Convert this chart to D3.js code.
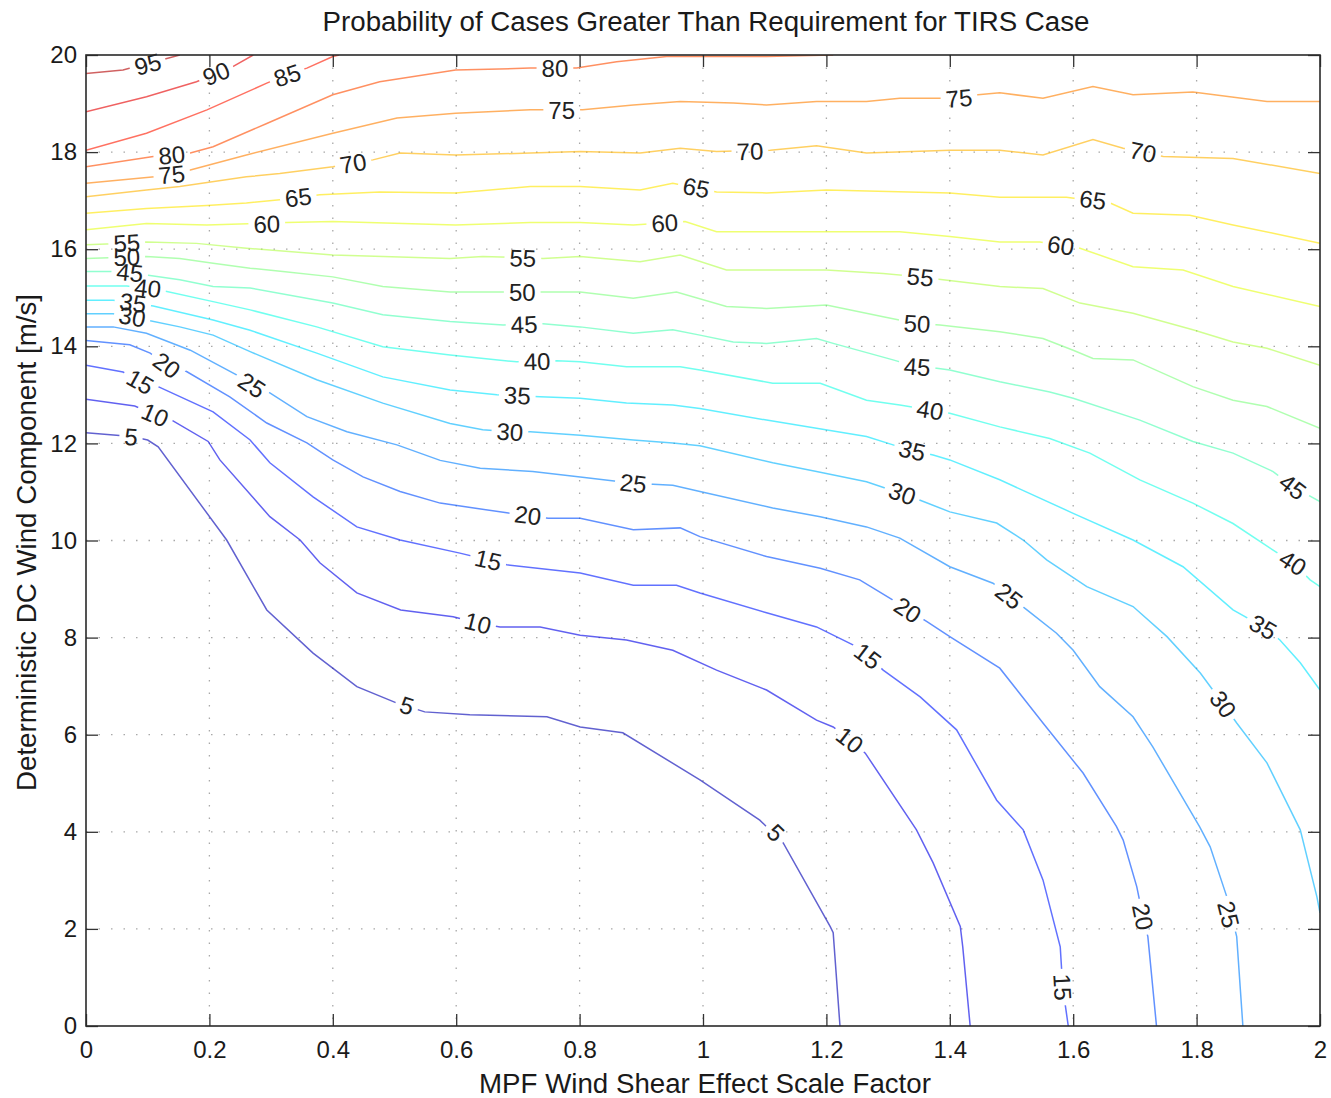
<!DOCTYPE html>
<html><head><meta charset="utf-8">
<script src="https://cdn.jsdelivr.net/npm/d3@7"></script>
<style>body{margin:0;background:#fff} text{font-family:"Liberation Sans",Arial,Helvetica,sans-serif}</style>
</head><body><svg id="chart" width="1331" height="1098"></svg>
<script>
// ---- data (x = scale factor, y = wind component m/s) ----
const levels = [5,10,15,20,25,30,35,40,45,50,55,60,65,70,75,80,85,90,95];
const c5 = [[0,12.22],[0.074,12.14],[0.100,12.07],[0.117,11.93],[0.228,10.01],[0.293,8.57],[0.368,7.68],[0.439,6.99],[0.504,6.65],[0.549,6.47],[0.622,6.41],[0.747,6.37],[0.801,6.16],[0.870,6.04],[0.995,5.07],[1.092,4.24],[1.130,3.77],[1.206,2.05],[1.211,1.92],[1.222,0]];
const c10 = [[0,12.91],[0.079,12.77],[0.112,12.59],[0.139,12.48],[0.198,12.04],[0.217,11.66],[0.298,10.49],[0.347,10.01],[0.379,9.54],[0.439,8.92],[0.510,8.57],[0.595,8.43],[0.635,8.30],[0.671,8.22],[0.736,8.22],[0.801,8.05],[0.876,7.95],[0.951,7.74],[1.022,7.33],[1.103,6.92],[1.184,6.30],[1.211,6.16],[1.238,5.89],[1.263,5.62],[1.346,4.04],[1.373,3.36],[1.417,2.05],[1.421,1.63],[1.433,0]];
const c15 = [[0,13.61],[0.060,13.47],[0.088,13.27],[0.117,13.17],[0.206,12.65],[0.266,12.07],[0.298,11.60],[0.368,10.90],[0.439,10.28],[0.509,10.01],[0.606,9.74],[0.652,9.60],[0.682,9.50],[0.801,9.33],[0.887,9.08],[0.957,9.08],[0.995,8.92],[1.103,8.51],[1.184,8.22],[1.243,7.85],[1.271,7.58],[1.292,7.33],[1.352,6.78],[1.411,6.10],[1.476,4.65],[1.519,4.04],[1.551,3.01],[1.579,1.63],[1.583,0.80],[1.592,0]];
const c20 = [[0,14.12],[0.071,14.03],[0.104,13.86],[0.131,13.61],[0.163,13.48],[0.233,12.96],[0.293,12.42],[0.358,12.01],[0.400,11.66],[0.449,11.31],[0.509,11.01],[0.574,10.77],[0.682,10.57],[0.749,10.46],[0.801,10.46],[0.887,10.22],[0.963,10.26],[0.995,10.08],[1.103,9.67],[1.190,9.43],[1.254,9.19],[1.308,8.77],[1.332,8.57],[1.363,8.33],[1.400,8.02],[1.481,7.37],[1.551,6.24],[1.616,5.21],[1.670,4.11],[1.681,3.83],[1.703,2.87],[1.713,2.25],[1.721,1.84],[1.735,0]];
const c25 = [[0,14.40],[0.044,14.40],[0.098,14.27],[0.169,13.92],[0.244,13.41],[0.269,13.20],[0.298,13.04],[0.358,12.55],[0.423,12.24],[0.504,11.97],[0.574,11.65],[0.639,11.49],[0.724,11.42],[0.801,11.31],[0.887,11.18],[0.951,11.14],[0.995,11.01],[1.113,10.67],[1.190,10.49],[1.265,10.28],[1.319,10.05],[1.400,9.46],[1.470,9.12],[1.498,8.84],[1.525,8.57],[1.573,8.09],[1.600,7.74],[1.643,6.99],[1.697,6.37],[1.729,5.75],[1.805,4.10],[1.822,3.69],[1.849,2.66],[1.865,1.84],[1.875,0]];
const c30 = [[0,14.67],[0.044,14.67],[0.098,14.54],[0.152,14.40],[0.206,14.23],[0.266,13.89],[0.374,13.31],[0.481,12.83],[0.590,12.41],[0.643,12.28],[0.687,12.24],[0.720,12.24],[0.801,12.17],[0.887,12.07],[0.951,12.01],[0.995,11.95],[1.113,11.60],[1.184,11.42],[1.265,11.21],[1.319,10.98],[1.352,10.83],[1.400,10.59],[1.476,10.36],[1.519,10.01],[1.557,9.60],[1.622,9.05],[1.697,8.64],[1.752,8.02],[1.806,7.27],[1.846,6.58],[1.865,6.24],[1.914,5.42],[1.968,4.04],[1.995,2.66],[2.0,2.33]];
const c35 = [[0,14.95],[0.044,14.95],[0.109,14.83],[0.206,14.54],[0.266,14.33],[0.374,13.86],[0.481,13.37],[0.590,13.10],[0.666,13.00],[0.736,12.96],[0.801,12.93],[0.876,12.83],[0.951,12.79],[0.995,12.72],[1.103,12.48],[1.184,12.31],[1.265,12.14],[1.308,11.97],[1.338,11.86],[1.373,11.76],[1.400,11.66],[1.481,11.25],[1.600,10.56],[1.697,10.01],[1.778,9.46],[1.859,8.57],[1.908,8.22],[1.935,7.95],[1.968,7.48],[2.0,6.92]];
const c40 = [[0,15.24],[0.066,15.24],[0.120,15.16],[0.206,14.92],[0.266,14.75],[0.374,14.40],[0.481,13.99],[0.590,13.82],[0.698,13.68],[0.763,13.70],[0.801,13.68],[0.876,13.58],[0.963,13.58],[0.995,13.51],[1.113,13.24],[1.190,13.24],[1.265,12.89],[1.319,12.79],[1.368,12.69],[1.400,12.62],[1.481,12.34],[1.562,12.10],[1.627,11.80],[1.708,11.25],[1.794,10.77],[1.859,10.35],[1.924,9.80],[1.956,9.54],[1.984,9.19],[2.0,9.05]];
const c45 = [[0,15.54],[0.044,15.54],[0.098,15.47],[0.152,15.37],[0.206,15.23],[0.266,15.20],[0.400,14.89],[0.481,14.65],[0.590,14.51],[0.676,14.44],[0.736,14.47],[0.801,14.40],[0.887,14.27],[0.951,14.34],[0.995,14.23],[1.049,14.09],[1.103,14.06],[1.184,14.16],[1.211,14.06],[1.308,13.72],[1.346,13.58],[1.379,13.55],[1.400,13.51],[1.481,13.27],[1.562,13.06],[1.600,12.93],[1.708,12.48],[1.794,12.04],[1.859,11.80],[1.924,11.42],[1.956,11.11],[2.0,10.80]];
const c50 = [[0,15.81],[0.098,15.85],[0.152,15.81],[0.206,15.71],[0.266,15.61],[0.319,15.54],[0.400,15.43],[0.481,15.23],[0.590,15.12],[0.676,15.12],[0.736,15.12],[0.801,15.12],[0.887,14.99],[0.957,15.12],[1.038,14.82],[1.103,14.78],[1.200,14.85],[1.292,14.61],[1.346,14.47],[1.384,14.44],[1.481,14.30],[1.551,14.16],[1.600,13.92],[1.632,13.75],[1.697,13.72],[1.794,13.17],[1.859,12.89],[1.914,12.76],[2.0,12.31]];
const c55 = [[0,16.09],[0.044,16.11],[0.098,16.15],[0.179,16.12],[0.260,16.02],[0.400,15.88],[0.590,15.81],[0.643,15.85],[0.741,15.81],[0.801,15.85],[0.898,15.74],[0.963,15.88],[1.038,15.57],[1.200,15.57],[1.292,15.50],[1.352,15.43],[1.389,15.37],[1.481,15.23],[1.551,15.19],[1.611,14.89],[1.697,14.68],[1.794,14.34],[1.859,14.09],[1.914,13.96],[2.0,13.61]];
const c60 = [[0,16.40],[0.098,16.53],[0.196,16.50],[0.325,16.55],[0.400,16.57],[0.599,16.50],[0.720,16.55],[0.801,16.55],[0.887,16.50],[0.971,16.57],[1.022,16.36],[1.200,16.36],[1.319,16.36],[1.400,16.26],[1.481,16.15],[1.546,16.15],[1.611,16.02],[1.697,15.64],[1.778,15.57],[1.859,15.23],[2.0,14.82]];
const c65 = [[0,16.74],[0.098,16.84],[0.196,16.90],[0.260,16.95],[0.314,17.02],[0.379,17.12],[0.476,17.18],[0.599,17.16],[0.720,17.29],[0.801,17.29],[0.898,17.22],[0.951,17.36],[1.022,17.18],[1.103,17.16],[1.200,17.22],[1.400,17.16],[1.481,17.07],[1.589,17.07],[1.660,16.95],[1.697,16.74],[1.789,16.70],[1.859,16.50],[1.924,16.33],[2.0,16.12]];
const c70 = [[0,17.08],[0.098,17.22],[0.152,17.29],[0.260,17.49],[0.314,17.56],[0.400,17.70],[0.465,17.84],[0.509,17.98],[0.599,17.94],[0.720,17.98],[0.801,18.01],[0.898,17.98],[0.963,18.08],[1.022,18.01],[1.109,18.04],[1.184,18.13],[1.265,17.98],[1.400,18.04],[1.481,18.04],[1.551,17.94],[1.632,18.26],[1.681,18.08],[1.746,17.91],[1.859,17.87],[2.0,17.56]];
const c75 = [[0,17.36],[0.141,17.53],[0.169,17.63],[0.260,17.94],[0.400,18.39],[0.504,18.70],[0.599,18.80],[0.720,18.87],[0.805,18.87],[0.887,18.97],[0.963,19.04],[1.049,19.01],[1.103,18.97],[1.184,19.04],[1.265,19.04],[1.319,19.11],[1.384,19.11],[1.481,19.22],[1.551,19.11],[1.632,19.35],[1.697,19.18],[1.794,19.24],[1.914,19.04],[2.0,19.04]];
const c80 = [[0,17.70],[0.109,17.91],[0.169,17.98],[0.206,18.11],[0.293,18.59],[0.400,19.18],[0.476,19.45],[0.599,19.69],[0.720,19.73],[0.795,19.73],[0.860,19.86],[0.941,19.97],[1.103,19.97],[1.211,20.0]];
const c85 = [[0,18.04],[0.098,18.39],[0.196,18.87],[0.293,19.42],[0.325,19.59],[0.358,19.73],[0.400,19.97],[0.410,20.0]];
const c90 = [[0,18.83],[0.098,19.14],[0.179,19.45],[0.212,19.62],[0.238,19.76],[0.271,20.0]];
const c95 = [[0,19.62],[0.060,19.69],[0.100,19.83],[0.131,19.93],[0.152,20.0]];
const contourLines = [c5,c10,c15,c20,c25,c30,c35,c40,c45,c50,c55,c60,c65,c70,c75,c80,c85,c90,c95];

// contour label positions [level, x, y]
const labelPos = [
 [95,0.100,19.81],[90,0.211,19.62],[85,0.326,19.58],
 [80,0.139,17.94],[80,0.760,19.73],
 [75,0.139,17.54],[75,0.771,18.87],[75,1.415,19.11],
 [70,0.433,17.77],[70,1.076,18.02],[70,1.713,18.00],
 [65,0.344,17.07],[65,0.989,17.27],[65,1.632,17.02],
 [60,0.293,16.52],[60,0.938,16.54],[60,1.580,16.08],
 [55,0.066,16.13],[55,0.708,15.82],[55,1.352,15.43],
 [50,0.066,15.84],[50,0.707,15.12],[50,1.347,14.47],
 [45,0.071,15.52],[45,0.710,14.45],[45,1.347,13.58],[45,1.956,11.11],
 [40,0.100,15.20],[40,0.731,13.69],[40,1.368,12.69],[40,1.956,9.54],
 [35,0.076,14.90],[35,0.699,12.99],[35,1.339,11.86],[35,1.908,8.22],
 [30,0.075,14.61],[30,0.687,12.24],[30,1.323,10.97],[30,1.843,6.63],
 [25,0.269,13.20],[25,0.887,11.18],[25,1.496,8.86],[25,1.852,2.30],
 [20,0.131,13.61],[20,0.716,10.52],[20,1.332,8.57],[20,1.713,2.25],
 [15,0.088,13.27],[15,0.652,9.60],[15,1.267,7.62],[15,1.583,0.80],
 [10,0.112,12.59],[10,0.635,8.30],[10,1.238,5.89],
 [5,0.073,12.14],[5,0.520,6.60],[5,1.118,3.98]
];
const xTicks = [0,0.2,0.4,0.6,0.8,1,1.2,1.4,1.6,1.8,2];
const yTicks = [0,2,4,6,8,10,12,14,16,18,20];
const titleText = "Probability of Cases Greater Than Requirement for TIRS Case";
const xLabelText = "MPF Wind Shear Effect Scale Factor";
const yLabelText = "Deterministic DC Wind Component [m/s]";

// ---- drawing ----
const W = 1331, H = 1098, m = {l:86, t:55, r:11, b:72};
const iw = W - m.l - m.r, ih = H - m.t - m.b;
const x = d3.scaleLinear().domain([0,2]).range([0,iw]);
const y = d3.scaleLinear().domain([0,20]).range([ih,0]);
const svg = d3.select("#chart");
const defs = svg.append("defs");
defs.append("clipPath").attr("id","plotclip").append("rect").attr("width",iw).attr("height",ih);

function jet(t){
  const c = v => Math.max(0, Math.min(1, v));
  const r = c(1.5 - Math.abs(4*t - 3)), g = c(1.5 - Math.abs(4*t - 2)), b = c(1.5 - Math.abs(4*t - 1));
  return d3.rgb(r*255, g*255, b*255).toString();
}

const g = svg.append("g").attr("transform", `translate(${m.l},${m.t})`);
g.append("rect").attr("width",iw).attr("height",ih).attr("fill","#fff");

// grid
const grid = g.append("g").attr("stroke","#a8a8a8").attr("stroke-width",1.3).attr("stroke-dasharray","1.5 11");
grid.selectAll("line.vx").data(xTicks.filter(d=>d>0&&d<2)).join("line")
  .attr("x1",d=>x(d)).attr("x2",d=>x(d)).attr("y1",0).attr("y2",ih);
grid.selectAll("line.hy").data(yTicks.filter(d=>d>0&&d<20)).join("line")
  .attr("y1",d=>y(d)).attr("y2",d=>y(d)).attr("x1",0).attr("x2",iw);

const fs = 24;
const linesG = g.append("g").attr("clip-path","url(#plotclip)");
const labelG = g.append("g");
function nearestAngle(pts, px, py){
  let best = Infinity, ang = 0;
  for (let i=0;i<pts.length-1;i++){
    const ax=pts[i][0], ay=pts[i][1], bx=pts[i+1][0], by=pts[i+1][1];
    const dx=bx-ax, dy=by-ay, L=dx*dx+dy*dy;
    let t = L>0 ? ((px-ax)*dx+(py-ay)*dy)/L : 0; t=Math.max(0,Math.min(1,t));
    const qx=ax+t*dx, qy=ay+t*dy, d=(px-qx)**2+(py-qy)**2;
    if (d<best){best=d; ang=Math.atan2(dy,dx)*180/Math.PI;}
  }
  if (ang>90) ang-=180; if (ang<=-90) ang+=180;
  return ang;
}
const pixLines = contourLines.map(ln => ln.map(p => [x(p[0]), y(p[1])]));
const labelInfo = labelPos.map(([lv,lx,ly]) => {
  const idx = levels.indexOf(lv);
  const px = x(lx), py = y(ly);
  return {lv, idx, px, py, ang: nearestAngle(pixLines[idx], px, py)};
});
const texts = labelG.selectAll("text").data(labelInfo).join("text")
  .attr("transform", d=>`translate(${d.px},${d.py}) rotate(${d.ang})`)
  .attr("text-anchor","middle").attr("dy","0.36em")
  .attr("font-size",fs).attr("fill","#222").text(d=>d.lv);
texts.each(function(d){ d.w = this.getComputedTextLength(); });

levels.forEach((lv,i)=>{
  const mk = defs.append("mask").attr("id","mk"+lv).attr("maskUnits","userSpaceOnUse")
    .attr("x",-10).attr("y",-10).attr("width",iw+20).attr("height",ih+20);
  mk.append("rect").attr("x",-10).attr("y",-10).attr("width",iw+20).attr("height",ih+20).attr("fill","#fff");
  labelInfo.filter(d=>d.lv===lv).forEach(d=>{
    mk.append("rect").attr("x",-(d.w/2+5)).attr("y",-fs*0.42).attr("width",d.w+10).attr("height",fs*0.84)
      .attr("transform",`translate(${d.px},${d.py}) rotate(${d.ang})`).attr("fill","#000");
  });
});

const lineGen = d3.line().x(d=>x(d[0])).y(d=>y(d[1]));
linesG.selectAll("path").data(contourLines).join("path")
  .attr("d", lineGen).attr("fill","none")
  .attr("stroke",(d,i)=>jet(levels[i]/100)).attr("stroke-width",1.5).attr("stroke-opacity",0.62)
  .attr("mask",(d,i)=>`url(#mk${levels[i]})`);

// axes
const fmt = d => String(d);
const axBottom = g.append("g").attr("transform",`translate(0,${ih})`)
  .call(d3.axisBottom(x).tickValues(xTicks).tickFormat(fmt).tickSize(-12).tickPadding(15));
const axTop = g.append("g").call(d3.axisTop(x).tickValues(xTicks).tickFormat("").tickSize(-12));
const axLeft = g.append("g").call(d3.axisLeft(y).tickValues(yTicks).tickFormat(fmt).tickSize(-12).tickPadding(9));
const axRight = g.append("g").attr("transform",`translate(${iw},0)`)
  .call(d3.axisRight(y).tickValues(yTicks).tickFormat("").tickSize(-12));
[axBottom,axTop,axLeft,axRight].forEach(a=>{
  a.selectAll(".domain").remove();
  a.selectAll(".tick line").attr("stroke","#333").attr("stroke-width",1.3);
  a.selectAll("text").attr("font-size",24).attr("fill","#1a1a1a")
    .attr("font-family",'"Liberation Sans",Arial,Helvetica,sans-serif');
});
g.append("rect").attr("width",iw).attr("height",ih).attr("fill","none").attr("stroke","#2a2a2a").attr("stroke-width",1.6);

// titles
svg.append("text").attr("x",m.l+iw/2+3).attr("y",31).attr("text-anchor","middle")
  .attr("font-size",27.7).attr("fill","#1a1a1a").text(titleText);
svg.append("text").attr("x",m.l+iw/2+2).attr("y",1093).attr("text-anchor","middle")
  .attr("font-size",27.7).attr("fill","#1a1a1a").text(xLabelText);
svg.append("text").attr("transform",`translate(36,${m.t+ih/2+2}) rotate(-90)`).attr("text-anchor","middle")
  .attr("font-size",27.7).attr("fill","#1a1a1a").text(yLabelText);
</script></body></html>
